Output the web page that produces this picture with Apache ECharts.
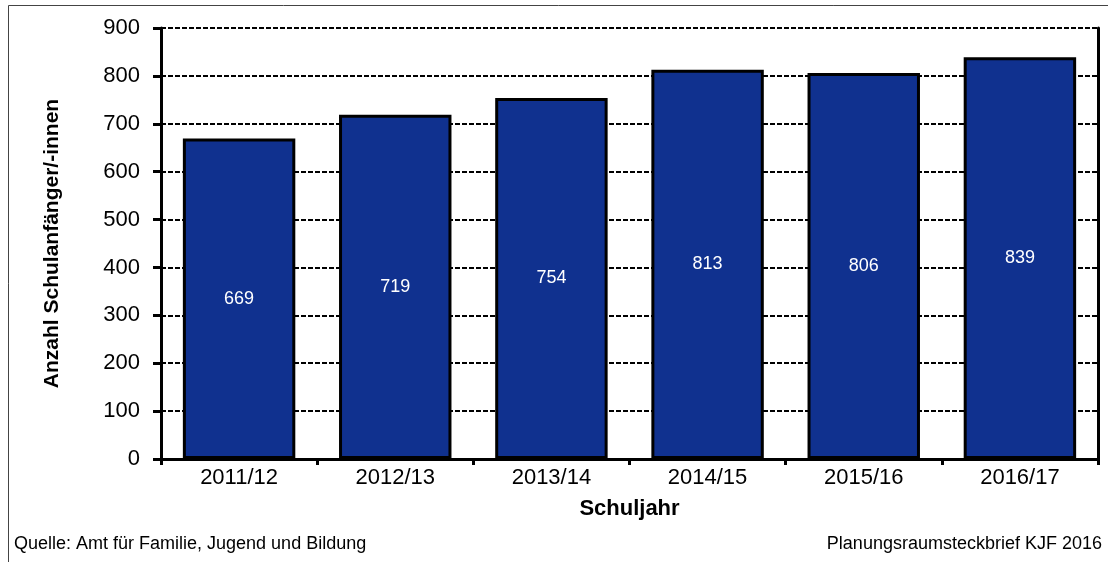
<!DOCTYPE html>
<html>
<head>
<meta charset="utf-8">
<script src="https://cdn.jsdelivr.net/npm/echarts@6/dist/echarts.min.js"></script>
<style>
  html, body { margin: 0; padding: 0; background: #fff; }
</style>
</head>
<body>
<div id="chart" style="width:1108px;height:562px;"></div>
<script>
// Schulanfänger je Schuljahr
var schuljahre = ['2011/12', '2012/13', '2013/14', '2014/15', '2015/16', '2016/17']
var anzahl = [669, 719, 754, 813, 806, 839]
var yMin = 0
var yMax = 900
var yStep = 100

var myChart = echarts.init(document.getElementById('chart'))
var font = 'Arial, "Liberation Sans", sans-serif'
var option = {
  backgroundColor: '#ffffff',
  animation: false,
  textStyle: { fontFamily: font },
  grid: { left: 161, right: 10, top: 28, bottom: 103 },
  xAxis: {
    type: 'category',
    data: schuljahre,
    name: 'Schuljahr',
    nameLocation: 'middle',
    nameGap: 39,
    nameTextStyle: { fontSize: 22, fontWeight: 'bold', color: '#000' },
    axisLine: { lineStyle: { color: '#000', width: 3 } },
    axisTick: { show: true, length: 6, lineStyle: { color: '#000', width: 3 } },
    axisLabel: { fontSize: 22, color: '#000', margin: 8 }
  },
  yAxis: [
    {
      type: 'value',
      min: yMin,
      max: yMax,
      interval: yStep,
      name: 'Anzahl Schulanfänger/-innen',
      nameLocation: 'middle',
      nameGap: 98,
      nameTextStyle: { fontSize: 21, fontWeight: 'bold', color: '#000' },
      axisLine: { show: true, lineStyle: { color: '#000', width: 3 } },
      axisTick: { show: true, length: 8, lineStyle: { color: '#000', width: 3 } },
      axisLabel: { fontSize: 22, color: '#000', margin: 21 },
      splitLine: { show: true, lineStyle: { color: '#000', width: 2, type: [5, 2] } }
    },
    {
      type: 'value',
      position: 'right',
      min: yMin,
      max: yMax,
      interval: yStep,
      axisLine: { show: true, lineStyle: { color: '#000', width: 3 } },
      axisTick: { show: false },
      axisLabel: { show: false },
      splitLine: { show: false }
    }
  ],
  series: [
    {
      type: 'bar',
      data: anzahl,
      barCategoryGap: '28%',
      itemStyle: { color: '#10318F', borderColor: '#000', borderWidth: 3 },
      label: { show: true, position: 'inside', color: '#fff', fontSize: 18 }
    }
  ],
  graphic: [
    { type: 'line', shape: { x1: 8.5, y1: 5.5, x2: 1108, y2: 5.5 }, style: { stroke: '#444', lineWidth: 1 } },
    { type: 'line', shape: { x1: 8.5, y1: 5.5, x2: 8.5, y2: 562 }, style: { stroke: '#444', lineWidth: 1 } },
    { type: 'text', left: 14, top: 535, style: { text: 'Quelle: Amt für Familie, Jugend und Bildung', fill: '#000', font: '18px ' + font } },
    { type: 'text', right: 6, top: 535, style: { text: 'Planungsraumsteckbrief KJF 2016', fill: '#000', font: '18px ' + font } }
  ]
}
myChart.setOption(option, true)
</script>
</body>
</html>
